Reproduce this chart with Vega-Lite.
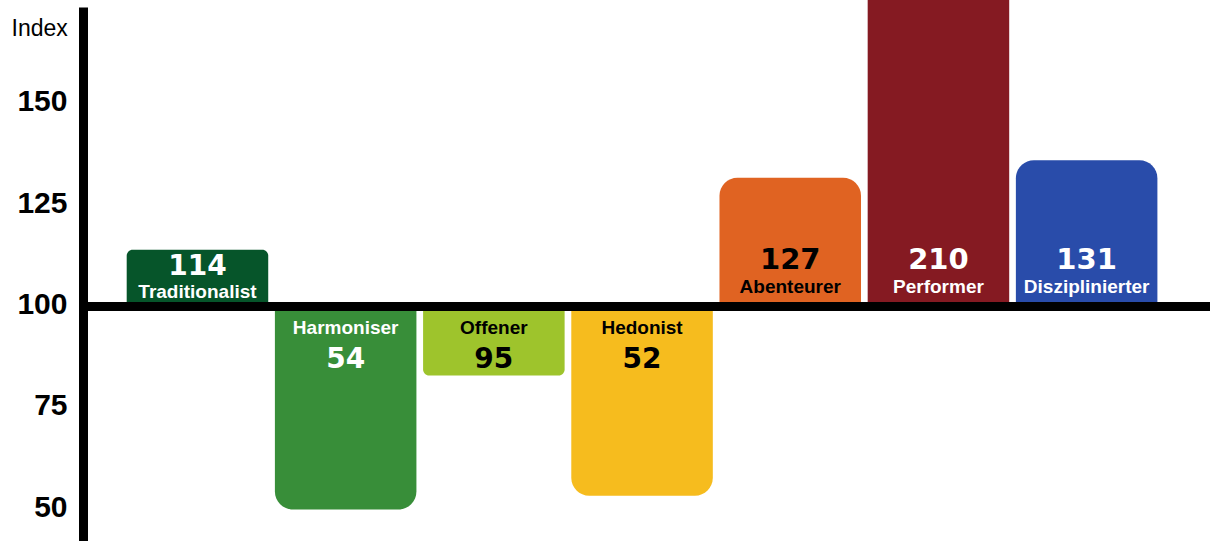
{
  "$schema": "https://vega.github.io/schema/vega-lite/v6.json",
  "width": 1127,
  "height": 534,
  "padding": {"left": 83, "top": 7, "right": 0, "bottom": 0},
  "autosize": {"type": "none"},
  "background": "white",
  "config": {"view": {"stroke": null}},
  "data": {
    "values": [
      {"segment": "Traditionalist", "index": 114, "level": 114},
      {"segment": "Harmoniser", "index": 54, "level": 50},
      {"segment": "Offener", "index": 95, "level": 83},
      {"segment": "Hedonist", "index": 52, "level": 53.4},
      {"segment": "Abenteurer", "index": 127, "level": 131.7},
      {"segment": "Performer", "index": 210, "level": 210},
      {"segment": "Disziplinierter", "index": 131, "level": 136}
    ]
  },
  "layer": [
    {
      "transform": [{"filter": "datum.level >= 120"}],
      "mark": {"type": "bar", "cornerRadiusTopLeft": 18, "cornerRadiusTopRight": 18},
      "encoding": {
        "x": {"field": "segment", "type": "nominal", "sort": null, "axis": null,
              "scale": {"domain": ["Traditionalist","Harmoniser","Offener","Hedonist","Abenteurer","Performer","Disziplinierter"], "range": [43.7, 1074.4], "paddingInner": 0.045, "paddingOuter": 0}},
        "y": {"field": "level", "type": "quantitative", "title": "Index",
              "scale": {"domain": [42.24, 173.77], "nice": false, "zero": false},
              "axis": {"title": "Index", "values": [50, 75, 100, 125, 150], "grid": false, "ticks": false, "tickSize": 0,
                       "domainColor": "black", "domainWidth": 9,
                       "labelFont": "Liberation Sans", "labelFontWeight": "bold", "labelFontSize": 30, "labelColor": "black",
                       "labelPadding": 16, "labelOffset": -2,
                       "titleAngle": 0, "titleAlign": "left", "titleBaseline": "alphabetic", "titleX": -72, "titleY": 28,
                       "titleFont": "Liberation Sans", "titleFontWeight": "normal", "titleFontSize": 23, "titleColor": "black"}},
        "y2": {"datum": 100},
        "color": {"field": "segment", "type": "nominal", "legend": null,
                  "scale": {"domain": ["Traditionalist","Harmoniser","Offener","Hedonist","Abenteurer","Performer","Disziplinierter"],
                            "range": ["#06552a","#388e39","#9ec42c","#f6bc1e","#e06322","#851a22","#294caa"]}}
      }
    },
    {
      "transform": [{"filter": "datum.level > 100 && datum.level < 120"}],
      "mark": {"type": "bar", "cornerRadiusTopLeft": 6, "cornerRadiusTopRight": 6},
      "encoding": {
        "x": {"field": "segment", "type": "nominal", "sort": null},
        "y": {"field": "level", "type": "quantitative", "title": "Index"},
        "y2": {"datum": 100},
        "color": {"field": "segment", "type": "nominal", "legend": null}
      }
    },
    {
      "transform": [{"filter": "datum.level < 70"}],
      "mark": {"type": "bar", "cornerRadiusBottomLeft": 18, "cornerRadiusBottomRight": 18},
      "encoding": {
        "x": {"field": "segment", "type": "nominal", "sort": null},
        "y": {"field": "level", "type": "quantitative", "title": "Index"},
        "y2": {"datum": 100},
        "color": {"field": "segment", "type": "nominal", "legend": null}
      }
    },
    {
      "transform": [{"filter": "datum.level >= 70 && datum.level < 100"}],
      "mark": {"type": "bar", "cornerRadiusBottomLeft": 6, "cornerRadiusBottomRight": 6},
      "encoding": {
        "x": {"field": "segment", "type": "nominal", "sort": null},
        "y": {"field": "level", "type": "quantitative", "title": "Index"},
        "y2": {"datum": 100},
        "color": {"field": "segment", "type": "nominal", "legend": null}
      }
    },
    {
      "data": {"values": [{"base": 100}]},
      "mark": {"type": "rule", "strokeWidth": 9, "color": "black"},
      "encoding": {"y": {"field": "base", "type": "quantitative", "title": "Index"}}
    },
    {
      "transform": [{"filter": "datum.level >= 120"}],
      "mark": {"type": "text", "font": "DejaVu Sans", "fontWeight": "bold", "fontSize": 29, "baseline": "alphabetic", "align": "center", "dy": -37.5},
      "encoding": {
        "x": {"field": "segment", "type": "nominal", "sort": null},
        "y": {"datum": 100, "title": "Index"},
        "text": {"field": "index", "type": "quantitative"},
        "color": {"condition": {"test": "datum.segment === 'Offener' || datum.segment === 'Hedonist' || datum.segment === 'Abenteurer'", "value": "black"}, "value": "white"}
      }
    },
    {
      "transform": [{"filter": "datum.level >= 120"}],
      "mark": {"type": "text", "font": "Liberation Sans", "fontWeight": "bold", "fontSize": 19, "baseline": "alphabetic", "align": "center", "dy": -13.5},
      "encoding": {
        "x": {"field": "segment", "type": "nominal", "sort": null},
        "y": {"datum": 100, "title": "Index"},
        "text": {"field": "segment", "type": "nominal"},
        "color": {"condition": {"test": "datum.segment === 'Offener' || datum.segment === 'Hedonist' || datum.segment === 'Abenteurer'", "value": "black"}, "value": "white"}
      }
    },
    {
      "transform": [{"filter": "datum.level > 100 && datum.level < 120"}],
      "mark": {"type": "text", "font": "DejaVu Sans", "fontWeight": "bold", "fontSize": 28, "baseline": "alphabetic", "align": "center", "dy": -31.5},
      "encoding": {
        "x": {"field": "segment", "type": "nominal", "sort": null},
        "y": {"datum": 100, "title": "Index"},
        "text": {"field": "index", "type": "quantitative"},
        "color": {"value": "white"}
      }
    },
    {
      "transform": [{"filter": "datum.level > 100 && datum.level < 120"}],
      "mark": {"type": "text", "font": "Liberation Sans", "fontWeight": "bold", "fontSize": 19, "baseline": "alphabetic", "align": "center", "dy": -8.5},
      "encoding": {
        "x": {"field": "segment", "type": "nominal", "sort": null},
        "y": {"datum": 100, "title": "Index"},
        "text": {"field": "segment", "type": "nominal"},
        "color": {"value": "white"}
      }
    },
    {
      "transform": [{"filter": "datum.level < 100"}],
      "mark": {"type": "text", "font": "Liberation Sans", "fontWeight": "bold", "fontSize": 19, "baseline": "alphabetic", "align": "center", "dy": 28},
      "encoding": {
        "x": {"field": "segment", "type": "nominal", "sort": null},
        "y": {"datum": 100, "title": "Index"},
        "text": {"field": "segment", "type": "nominal"},
        "color": {"condition": {"test": "datum.segment === 'Offener' || datum.segment === 'Hedonist' || datum.segment === 'Abenteurer'", "value": "black"}, "value": "white"}
      }
    },
    {
      "transform": [{"filter": "datum.level < 100"}],
      "mark": {"type": "text", "font": "DejaVu Sans", "fontWeight": "bold", "fontSize": 28, "baseline": "alphabetic", "align": "center", "dy": 61.5},
      "encoding": {
        "x": {"field": "segment", "type": "nominal", "sort": null},
        "y": {"datum": 100, "title": "Index"},
        "text": {"field": "index", "type": "quantitative"},
        "color": {"condition": {"test": "datum.segment === 'Offener' || datum.segment === 'Hedonist' || datum.segment === 'Abenteurer'", "value": "black"}, "value": "white"}
      }
    }
  ]
}
